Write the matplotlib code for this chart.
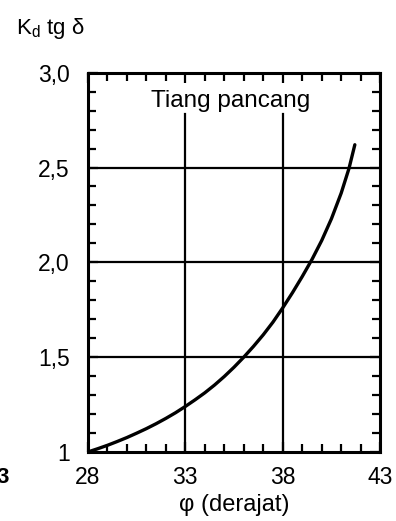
import matplotlib
matplotlib.use("Agg")
import matplotlib.pyplot as plt
from matplotlib.ticker import MultipleLocator

plt.rcParams['font.family'] = ['Liberation Sans', 'DejaVu Sans']

phi = [28, 28.5, 29, 29.5, 30, 30.5, 31, 31.5, 32, 32.5, 33, 33.5, 34, 34.5, 35, 35.5,
       36, 36.5, 37, 37.5, 38, 38.5, 39, 39.5, 40, 40.5, 41, 41.4, 41.7]
kd_tg = [1.0, 1.017, 1.035, 1.055, 1.076, 1.099, 1.123, 1.149, 1.177, 1.207, 1.24, 1.275, 1.312, 1.353,
         1.398, 1.447, 1.50, 1.557, 1.618, 1.685, 1.76, 1.84, 1.925, 2.015, 2.115, 2.23, 2.365, 2.495, 2.62]

x_ticks = [28, 33, 38, 43]
x_tick_labels = ["28", "33", "38", "43"]
y_ticks = [1.0, 1.5, 2.0, 2.5, 3.0]
y_tick_labels = ["1", "1,5", "2,0", "2,5", "3,0"]
h_lines = [1.5, 2.0, 2.5]
v_lines = [33, 38]
v_line_top = 2.78

fig = plt.figure(figsize=(3.96, 5.21), dpi=100)
ax = fig.add_axes([0.222, 0.1325, 0.738, 0.728])

for y in h_lines:
    ax.axhline(y, color='black', lw=1.6)
for x in v_lines:
    ax.plot([x, x], [1.0, v_line_top], color='black', lw=1.6)

ax.plot(phi, kd_tg, color='black', lw=2.4, solid_capstyle='round')

ax.set_xlim(28, 43)
ax.set_ylim(1.0, 3.0)
ax.set_xticks(x_ticks)
ax.set_xticklabels(x_tick_labels, fontsize=16.5)
ax.set_yticks(y_ticks)
ax.set_yticklabels(y_tick_labels, fontsize=16.5)
ax.xaxis.set_minor_locator(MultipleLocator(1))
ax.yaxis.set_minor_locator(MultipleLocator(0.1))
ax.tick_params(which='both', direction='in', top=True, right=True, width=1.6, color='black')
ax.tick_params(which='major', length=7)
ax.tick_params(axis='y', which='major', pad=13)
ax.tick_params(axis='x', which='major', pad=10)
ax.tick_params(which='minor', length=6)
for s in ax.spines.values():
    s.set_linewidth(2.2)

ax.text(35.3, 2.85, "Tiang pancang", fontsize=17.5, ha='center', va='center')
ax.set_xlabel("φ (derajat)", fontsize=17, labelpad=4)
fig.text(0.04, 0.946, r"K$_{\mathregular{d}}$ tg δ", fontsize=16, ha='left', va='center')
fig.text(-0.008, 0.083, "3", fontsize=16, ha='left', va='center', fontweight='bold')

fig.savefig("out.png", dpi=100)
